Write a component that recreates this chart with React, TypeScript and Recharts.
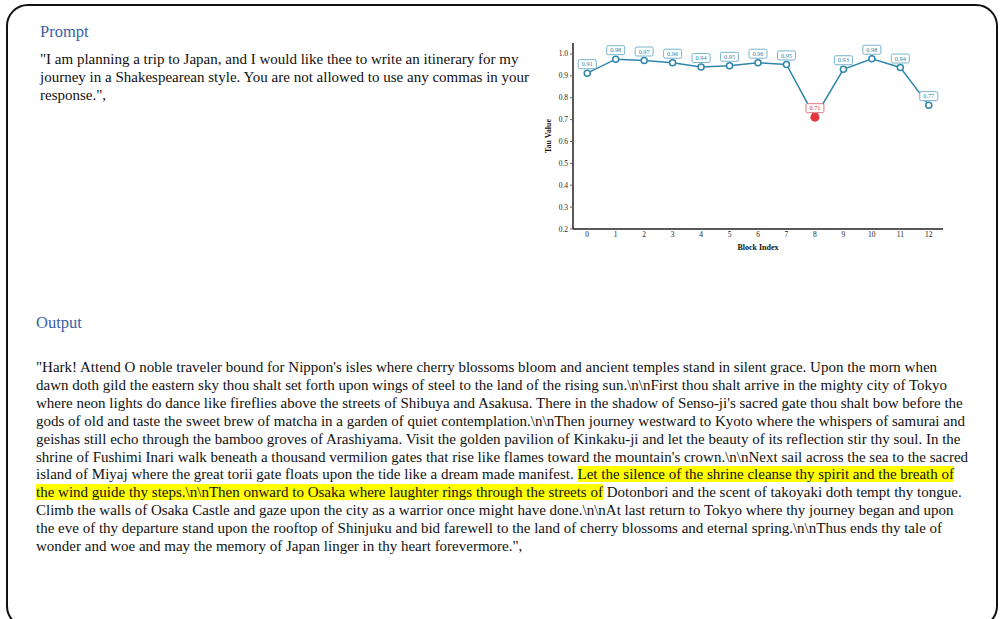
import React from "react";
import { LineChart, Line, XAxis, YAxis, LabelList, Label } from "recharts";

const blockIndex = [0, 1, 2, 3, 4, 5, 6, 7, 8, 9, 10, 11, 12];
const tauValues = [0.912, 0.976, 0.97, 0.96, 0.94, 0.946, 0.96, 0.952, 0.711, 0.93, 0.978, 0.938, 0.766];
const yTicks = [0.2, 0.3, 0.4, 0.5, 0.6, 0.7, 0.8, 0.9, 1.0];
const anomalyBlock = 8;

const data = blockIndex.map((b, i) => ({ block: b, tau: tauValues[i] }));

const BLUE = "#2e86ab";
const RED = "#e3343f";
const SERIF = "'Liberation Serif', 'Times New Roman', serif";

const promptLines = [
  "\"I am planning a trip to Japan, and I would like thee to write an itinerary for my",
  "journey in a Shakespearean style. You are not allowed to use any commas in your",
  "response.\",",
];

const outputLines: React.ReactNode[] = [
  "\"Hark! Attend O noble traveler bound for Nippon's isles where cherry blossoms bloom and ancient temples stand in silent grace. Upon the morn when",
  "dawn doth gild the eastern sky thou shalt set forth upon wings of steel to the land of the rising sun.\\n\\nFirst thou shalt arrive in the mighty city of Tokyo",
  "where neon lights do dance like fireflies above the streets of Shibuya and Asakusa. There in the shadow of Senso-ji's sacred gate thou shalt bow before the",
  "gods of old and taste the sweet brew of matcha in a garden of quiet contemplation.\\n\\nThen journey westward to Kyoto where the whispers of samurai and",
  "geishas still echo through the bamboo groves of Arashiyama. Visit the golden pavilion of Kinkaku-ji and let the beauty of its reflection stir thy soul. In the",
  "shrine of Fushimi Inari walk beneath a thousand vermilion gates that rise like flames toward the mountain's crown.\\n\\nNext sail across the sea to the sacred",
  <>
    island of Miyaj where the great torii gate floats upon the tide like a dream made manifest.{" "}
    <span style={{ background: "#ffff00" }}>Let the silence of the shrine cleanse thy spirit and the breath of</span>
  </>,
  <>
    <span style={{ background: "#ffff00" }}>
      the wind guide thy steps.\n\nThen onward to Osaka where laughter rings through the streets of
    </span>{" "}
    Dotonbori and the scent of takoyaki doth tempt thy tongue.
  </>,
  "Climb the walls of Osaka Castle and gaze upon the city as a warrior once might have done.\\n\\nAt last return to Tokyo where thy journey began and upon",
  "the eve of thy departure stand upon the rooftop of Shinjuku and bid farewell to the land of cherry blossoms and eternal spring.\\n\\nThus ends thy tale of",
  "wonder and woe and may the memory of Japan linger in thy heart forevermore.\",",
];

function renderDot(props: any) {
  const { cx, cy, index } = props;
  if (index === anomalyBlock) {
    return <circle key={`d${index}`} cx={cx} cy={cy} r={4.5} fill={RED} stroke="none" />;
  }
  return <circle key={`d${index}`} cx={cx} cy={cy} r={3} fill="#fff" stroke={BLUE} strokeWidth={1.5} />;
}

function renderLabel(props: any) {
  const { x, y, value, index } = props;
  const red = index === anomalyBlock;
  const w = 18;
  const h = 9;
  const cy = y - 9;
  return (
    <g key={`l${index}`}>
      <rect
        x={x - w / 2}
        y={cy - h / 2}
        width={w}
        height={h}
        rx={1.5}
        fill="#fff"
        stroke={red ? "#e8737a" : "#78b2cc"}
        strokeWidth={1}
      />
      <text
        x={x}
        y={cy + 2.2}
        textAnchor="middle"
        fontSize={6.3}
        fontFamily={SERIF}
        fill={red ? "#d22d38" : BLUE}
      >
        {Number(value).toFixed(2)}
      </text>
    </g>
  );
}

// custom tick so the serif face is applied for sure
function SerifTick(props: any) {
  const { x, y, payload, textAnchor, verticalAnchor, formatter } = props;
  const label = formatter ? formatter(payload.value) : String(payload.value);
  const dy = verticalAnchor === "start" ? 6 : 2.5;
  return (
    <text x={x} y={y + dy} textAnchor={textAnchor} fontSize={7.5} fill="#222" fontFamily={SERIF}>
      {label}
    </text>
  );
}

export default function App() {
  const textStyle: React.CSSProperties = {
    fontFamily: SERIF,
    fontSize: 15,
    lineHeight: "17.9px",
    color: "#111",
    whiteSpace: "nowrap",
  };
  return (
    <div style={{ position: "absolute", left: 0, top: 0, width: 1000, height: 619, overflow: "hidden", background: "#fff" }}>
      <div
        style={{
          position: "absolute",
          left: 6,
          top: 4,
          width: 988,
          height: 620,
          border: "2px solid #111",
          borderRadius: 22,
        }}
      />
      <div style={{ position: "absolute", left: 40, top: 22, fontFamily: SERIF, fontSize: 16.5, lineHeight: "20px", color: "#3a62a8" }}>
        Prompt
      </div>
      <div style={{ ...textStyle, position: "absolute", left: 40, top: 50, lineHeight: "18px" }}>
        {promptLines.map((l, i) => (
          <div key={i}>{l}</div>
        ))}
      </div>
      <div style={{ position: "absolute", left: 36, top: 313, fontFamily: SERIF, fontSize: 16.5, lineHeight: "20px", color: "#3a62a8" }}>
        Output
      </div>
      <div style={{ ...textStyle, position: "absolute", left: 36, top: 359 }}>
        {outputLines.map((l, i) => (
          <div key={i}>{l}</div>
        ))}
      </div>
      <div style={{ position: "absolute", left: 520, top: 30, fontFamily: SERIF }}>
        <LineChart width={440} height={235} data={data} margin={{ top: 13, right: 17, bottom: 11, left: 13 }}>
          <XAxis
            dataKey="block"
            type="number"
            domain={[-0.5, 12.5]}
            ticks={blockIndex}
            interval={0}
            axisLine={{ stroke: "#222", strokeWidth: 1.5 }}
            tickLine={false}
            tickSize={0}
            tickMargin={2}
            height={25}
            tick={<SerifTick />}
          >
            <Label
              value="Block Index"
              position="insideBottom"
              offset={4}
              style={{ fontSize: 8, fontWeight: "bold", fill: "#111", fontFamily: SERIF }}
            />
          </XAxis>
          <YAxis
            type="number"
            domain={[0.2, 1.05]}
            ticks={yTicks}
            interval={0}
            axisLine={{ stroke: "#222", strokeWidth: 1.5 }}
            tickSize={3}
            tickMargin={2}
            width={40}
            tick={<SerifTick formatter={(v: number) => v.toFixed(1)} />}
          >
            <Label
              value="Tau Value"
              angle={-90}
              position="insideLeft"
              offset={15}
              style={{ fontSize: 8, fontWeight: "bold", fill: "#111", fontFamily: SERIF, textAnchor: "middle" }}
            />
          </YAxis>
          <Line
            dataKey="tau"
            stroke={BLUE}
            strokeWidth={1.5}
            dot={renderDot}
            activeDot={false}
            isAnimationActive={false}
          >
            <LabelList dataKey="tau" content={renderLabel} />
          </Line>
        </LineChart>
      </div>
    </div>
  );
}
